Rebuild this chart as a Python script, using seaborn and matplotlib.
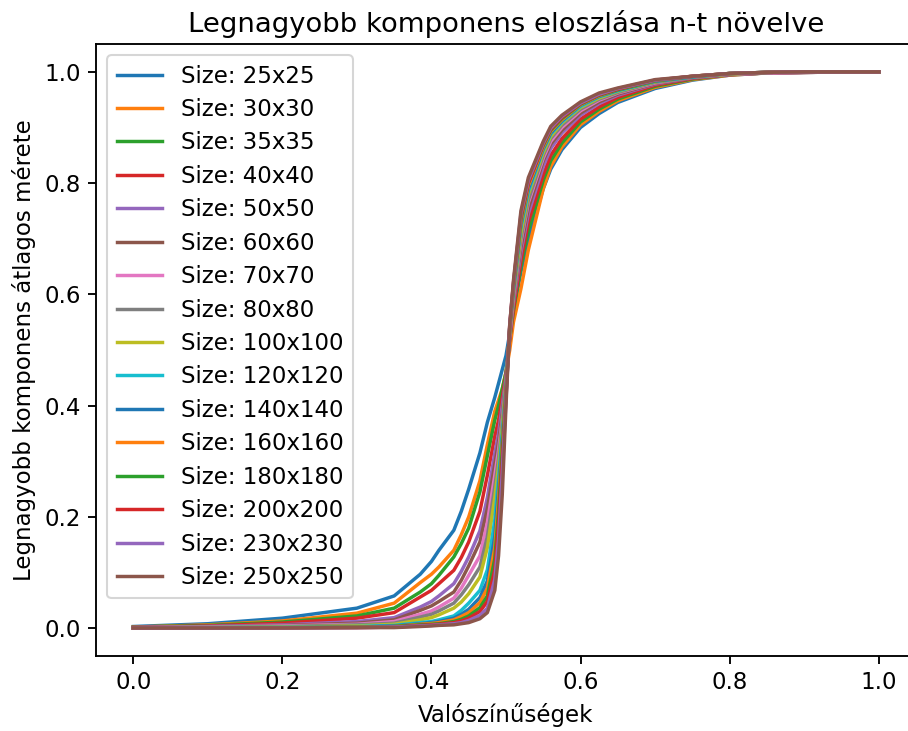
import matplotlib
matplotlib.use("Agg")
import matplotlib.pyplot as plt
import seaborn as sns
import pandas as pd

probs = [0.0, 0.1, 0.2, 0.3, 0.35, 0.385, 0.4, 0.41, 0.43, 0.44, 0.45, 0.465, 0.475, 0.485,
         0.49, 0.495, 0.5, 0.505, 0.51, 0.52, 0.53, 0.55, 0.56, 0.575, 0.6, 0.625, 0.65,
         0.7, 0.75, 0.8, 0.85, 0.9, 1.0]

sizes = [25, 30, 35, 40, 50, 60, 70, 80, 100, 120, 140, 160, 180, 200, 230, 250]

s25 = [0.003,0.008,0.018,0.036,0.058,0.097,0.12,0.14,0.176,0.21,0.25,0.315,0.37,0.415,0.44,0.465,0.49,0.53,0.57,0.64,0.70,0.79,0.825,0.86,0.90,0.925,0.945,0.97,0.985,0.994,0.998,0.999,1.0]
s30 = [0.002,0.006,0.013,0.027,0.045,0.082,0.097,0.11,0.14,0.168,0.20,0.265,0.33,0.39,0.41,0.43,0.46,0.50,0.55,0.61,0.68,0.79,0.83,0.865,0.905,0.929,0.948,0.972,0.986,0.994,0.998,0.999,1.0]
s35 = [0.002,0.005,0.011,0.022,0.036,0.065,0.08,0.095,0.128,0.152,0.18,0.245,0.31,0.374,0.40,0.43,0.46,0.52,0.57,0.65,0.715,0.805,0.84,0.872,0.91,0.933,0.951,0.974,0.987,0.995,0.998,0.999,1.0]
s40 = [0.0015,0.004,0.009,0.018,0.028,0.056,0.068,0.08,0.104,0.127,0.155,0.21,0.275,0.345,0.374,0.415,0.455,0.52,0.575,0.66,0.73,0.815,0.85,0.88,0.915,0.937,0.954,0.976,0.988,0.995,0.998,0.999,1.0]
s50 = [0.001,0.003,0.006,0.012,0.019,0.038,0.048,0.058,0.08,0.102,0.128,0.175,0.235,0.315,0.35,0.40,0.45,0.525,0.585,0.675,0.745,0.83,0.862,0.89,0.922,0.943,0.958,0.978,0.989,0.995,0.998,0.999,1.0]
s60 = [0.001,0.002,0.005,0.009,0.015,0.032,0.04,0.048,0.065,0.086,0.112,0.155,0.215,0.295,0.335,0.385,0.445,0.53,0.59,0.685,0.755,0.84,0.87,0.895,0.926,0.946,0.96,0.979,0.989,0.996,0.998,0.999,1.0]
s70 = [0.001,0.002,0.004,0.007,0.012,0.025,0.031,0.038,0.054,0.072,0.095,0.13,0.19,0.275,0.32,0.375,0.44,0.53,0.595,0.695,0.765,0.845,0.875,0.90,0.93,0.949,0.962,0.98,0.99,0.996,0.998,0.999,1.0]
s80 = [0.001,0.0015,0.003,0.006,0.009,0.02,0.025,0.031,0.045,0.06,0.078,0.11,0.165,0.255,0.305,0.37,0.44,0.535,0.60,0.70,0.77,0.85,0.88,0.904,0.933,0.951,0.963,0.981,0.99,0.996,0.999,1.0,1.0]
s100 = [0.0008,0.001,0.002,0.004,0.007,0.015,0.019,0.024,0.036,0.047,0.062,0.092,0.145,0.235,0.29,0.36,0.435,0.535,0.605,0.71,0.78,0.855,0.884,0.908,0.936,0.953,0.965,0.982,0.991,0.996,0.999,1.0,1.0]
s120 = [0.0007,0.001,0.0015,0.003,0.005,0.01,0.012,0.015,0.022,0.032,0.045,0.068,0.105,0.195,0.27,0.35,0.43,0.54,0.61,0.72,0.785,0.86,0.888,0.91,0.938,0.955,0.966,0.983,0.991,0.997,0.999,1.0,1.0]
s140 = [0.0006,0.0008,0.001,0.002,0.004,0.008,0.01,0.012,0.018,0.025,0.034,0.055,0.085,0.165,0.25,0.34,0.43,0.54,0.61,0.725,0.79,0.862,0.89,0.912,0.94,0.956,0.967,0.983,0.991,0.997,0.999,1.0,1.0]
s160 = [0.0005,0.0007,0.001,0.002,0.003,0.007,0.0085,0.01,0.015,0.021,0.028,0.046,0.072,0.145,0.23,0.33,0.425,0.54,0.615,0.73,0.795,0.865,0.893,0.914,0.941,0.957,0.968,0.984,0.992,0.997,0.999,1.0,1.0]
s180 = [0.0005,0.0006,0.0008,0.0015,0.003,0.006,0.007,0.008,0.012,0.016,0.022,0.037,0.058,0.125,0.21,0.32,0.42,0.54,0.615,0.735,0.80,0.868,0.895,0.916,0.942,0.958,0.968,0.984,0.992,0.997,0.999,1.0,1.0]
s200 = [0.0004,0.0005,0.0007,0.001,0.002,0.005,0.006,0.007,0.01,0.013,0.018,0.03,0.048,0.105,0.19,0.30,0.415,0.545,0.62,0.74,0.80,0.87,0.897,0.918,0.943,0.959,0.969,0.985,0.992,0.997,0.999,1.0,1.0]
s230 = [0.0003,0.0004,0.0006,0.001,0.002,0.004,0.005,0.006,0.008,0.01,0.014,0.023,0.036,0.088,0.16,0.28,0.41,0.545,0.62,0.745,0.805,0.872,0.899,0.92,0.944,0.96,0.97,0.985,0.992,0.997,0.999,1.0,1.0]
s250 = [0.0003,0.0004,0.0005,0.001,0.001,0.003,0.004,0.005,0.006,0.008,0.01,0.017,0.028,0.068,0.13,0.24,0.40,0.545,0.625,0.75,0.81,0.875,0.902,0.922,0.946,0.962,0.971,0.986,0.992,0.997,0.999,1.0,1.0]

series = [s25, s30, s35, s40, s50, s60, s70, s80, s100, s120, s140, s160, s180, s200, s230, s250]

rows = []
labels = []
for n, vals in zip(sizes, series):
    lab = f"Size: {n}x{n}"
    labels.append(lab)
    for p, v in zip(probs, vals):
        rows.append({"p": p, "v": v, "size": lab})
df = pd.DataFrame(rows)

tab10 = sns.color_palette("tab10", 10)
palette = [tab10[i % 10] for i in range(len(sizes))]

fig = plt.figure(figsize=(909 / 150, 731 / 150), dpi=150)
ax = fig.add_axes([96 / 909, 1 - 656 / 731, 820 / 909, 612 / 731])
sns.lineplot(data=df, x="p", y="v", hue="size", hue_order=labels,
             palette=palette, linewidth=1.65, ax=ax, sort=True)
ax.set_xlim(-0.05, 1.05)
ax.set_ylim(-0.05, 1.05)
ax.set_title("Legnagyobb komponens eloszlása n-t növelve", fontsize=13.2)
ax.set_xlabel("Valószínűségek", fontsize=11)
ax.set_ylabel("Legnagyobb komponens átlagos mérete", fontsize=11)
ax.tick_params(labelsize=11, width=0.9, length=3.8)
for s in ax.spines.values():
    s.set_linewidth(0.9)
ax.legend(loc="upper left", fontsize=11, labelspacing=0.455)
fig.savefig("out.png", dpi=150)
